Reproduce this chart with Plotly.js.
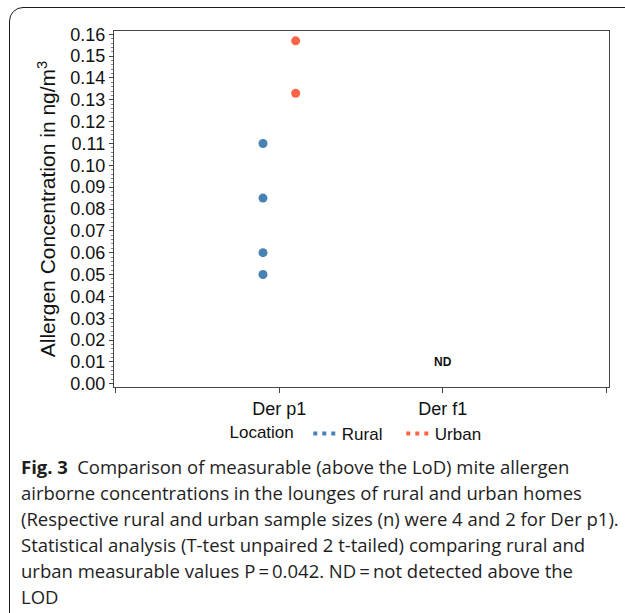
<!DOCTYPE html>
<html>
<head>
<meta charset="utf-8">
<script src="https://cdn.plot.ly/plotly-3.0.1.min.js"></script>
<style>
  html, body { margin: 0; padding: 0; background: #fff; }
  #wrap { position: relative; width: 625px; height: 613px; overflow: hidden; }
  #frame { position: absolute; left: 9px; top: 7px; width: 700px; height: 700px;
           border: 1.6px solid #1a1a1a; border-radius: 14px; box-sizing: border-box; pointer-events: none; }
  #chart { position: absolute; left: 0; top: 0; width: 625px; height: 613px; }
</style>
</head>
<body>
<div id="wrap">
  <div id="frame"></div>
  <div id="chart"></div>
</div>
<script>
// ---- data ----
const categories = ['Der p1', 'Der f1'];
const ruralCategory = ['Der p1', 'Der p1', 'Der p1', 'Der p1'];
const ruralValues = [0.110, 0.085, 0.060, 0.050];
const urbanCategory = ['Der p1', 'Der p1'];
const urbanValues = [0.157, 0.133];
const ndCategory = 'Der f1';
const ndValue = 0.01;
const yTickValues = [0, 0.01, 0.02, 0.03, 0.04, 0.05, 0.06, 0.07, 0.08, 0.09, 0.10, 0.11, 0.12, 0.13, 0.14, 0.15, 0.16];
const yTickLabels = ['0.00', '0.01', '0.02', '0.03', '0.04', '0.05', '0.06', '0.07', '0.08', '0.09', '0.10', '0.11', '0.12', '0.13', '0.14', '0.15', '0.16'];
const captionLines = [
  '<b>Fig. 3</b>\u2002Comparison of measurable (above the LoD) mite allergen',
  'airborne concentrations in the lounges of rural and urban homes',
  '(Respective rural and urban sample sizes (n) were 4 and 2 for Der p1).',
  'Statistical analysis (T-test unpaired 2 t-tailed) comparing rural and',
  'urban measurable values P\u2009=\u20090.042. ND\u2009=\u2009not detected above the',
  'LOD'
];

// ---- layout helpers ----
const W = 625, H = 613;
const M = { l: 114, r: 16, t: 31, b: 226 };
const PW = W - M.l - M.r, PH = H - M.t - M.b;
const px2x = px => (px - M.l) / PW;
const py2y = py => (H - M.b - py) / PH;

const RURAL = '#4682b4';
const URBAN = '#fd6446';
const SANS = 'Liberation Sans, Arial, sans-serif';
const AX_FONT = { family: SANS, size: 18, color: '#111' };
const DOTS = '0px,6.5px,4px,5px,4px,5px,4px,100px';

const traces = [
  { type: 'scatter', mode: 'markers', name: 'Rural', x: ruralCategory, y: ruralValues,
    marker: { color: RURAL, size: 9 }, offsetgroup: 'rural', showlegend: false, hoverinfo: 'x+y' },
  { type: 'scatter', mode: 'markers', name: 'Urban', x: urbanCategory, y: urbanValues,
    marker: { color: URBAN, size: 9 }, offsetgroup: 'urban', showlegend: false, hoverinfo: 'x+y' },
  // legend entries (dotted swatch)
  { type: 'scatter', mode: 'lines', name: 'Rural', x: [null], y: [null], offsetgroup: 'rural',
    line: { color: RURAL, width: 4, dash: DOTS }, showlegend: true },
  { type: 'scatter', mode: 'lines', name: 'Urban', x: [null], y: [null], offsetgroup: 'urban',
    line: { color: URBAN, width: 4, dash: DOTS }, showlegend: true }
];

const annotations = [
  { x: ndCategory, y: ndValue, xref: 'x', yref: 'y', text: '<b>ND</b>', showarrow: false,
    font: { family: SANS, size: 12, color: '#111' } }
];
const lineCenter0 = 466, lineStep = 26;
captionLines.forEach((t, i) => {
  annotations.push({
    x: px2x(19), y: py2y(lineCenter0 + i * lineStep), xref: 'paper', yref: 'paper',
    xanchor: 'left', yanchor: 'middle', text: t, showarrow: false, align: 'left',
    font: { family: 'Open Sans, Noto Sans, sans-serif', size: 18.5, color: '#1e1e1e' }
  });
});

const layout = {
  width: W, height: H,
  margin: M,
  paper_bgcolor: 'rgba(0,0,0,0)',
  plot_bgcolor: '#fff',
  showlegend: true,
  scattermode: 'group',
  scattergap: 0.6,
  xaxis: {
    type: 'category',
    categoryorder: 'array', categoryarray: categories,
    range: [-1.012, 2.018],
    tickmode: 'array', tickvals: [-1, 0, 1, 2], ticktext: ['', categories[0], categories[1], ''],
    ticks: 'outside', ticklen: 5, tickwidth: 1, tickcolor: '#444',
    showline: true, linecolor: '#444', linewidth: 1.2, mirror: true,
    showgrid: false, zeroline: false,
    tickfont: AX_FONT
  },
  yaxis: {
    range: [-0.0015, 0.1615],
    tickmode: 'array', tickvals: yTickValues, ticktext: yTickLabels,
    ticks: 'outside', ticklen: 4, tickwidth: 1, tickcolor: '#444',
    minor: { dtick: 0.002, ticks: 'outside', ticklen: 2, tickcolor: '#888', showgrid: false },
    showline: true, linecolor: '#444', linewidth: 1.2, mirror: true,
    showgrid: false, zeroline: false,
    tickfont: AX_FONT,
    title: { text: 'Allergen Concentration in ng/m<sup>3</sup>', standoff: 8,
             font: { family: SANS, size: 21, color: '#111' } }
  },
  yaxis2: {
    overlaying: 'y', range: [-0.0015, 0.1615], dtick: 0.02, tick0: 0,
    showgrid: true, gridcolor: '#d9d9d9', gridwidth: 1,
    showticklabels: false, ticks: '', showline: false, zeroline: false
  },
  legend: {
    orientation: 'h', x: px2x(227.5), xanchor: 'left', y: py2y(434), yanchor: 'middle',
    title: { text: 'Location', side: 'left', font: { family: SANS, size: 17, color: '#111' } },
    font: { family: SANS, size: 17, color: '#111' },
    itemwidth: 30, entrywidth: 48, bgcolor: 'rgba(0,0,0,0)', traceorder: 'normal'
  },
  annotations: annotations
};

Plotly.newPlot('chart', traces, layout, { displayModeBar: false, staticPlot: true });
</script>
</body>
</html>
